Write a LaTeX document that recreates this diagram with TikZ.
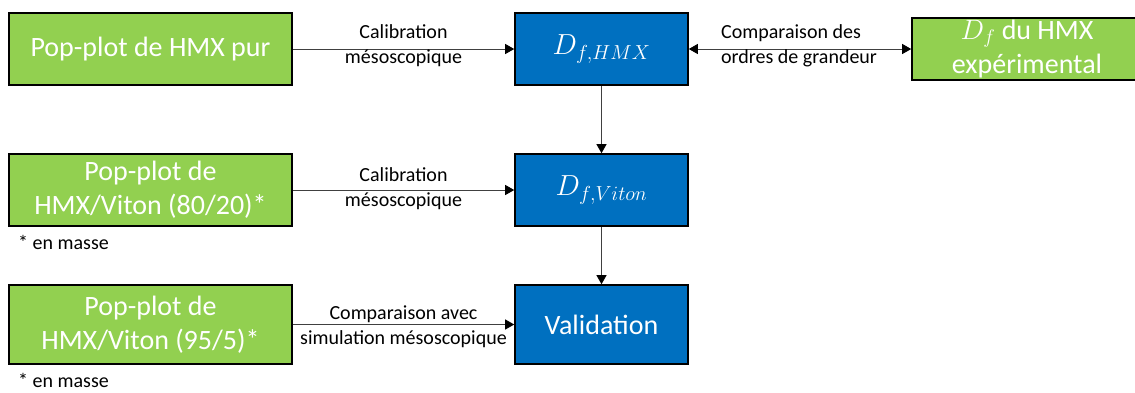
\documentclass[tikz,border=0pt]{standalone}
\usepackage{fix-cm}
\usepackage{fontspec}
\setmainfont{Carlito}
\usetikzlibrary{arrows.meta}
\definecolor{bgreen}{HTML}{92D050}
\definecolor{bblue}{HTML}{0070C0}
\definecolor{lgray}{HTML}{404040}
\begin{document}
\begin{tikzpicture}[x=1pt,y=-1pt,
  basebox/.style={draw=black, line width=1.6pt, text=white, align=center, inner sep=0pt,
    font=\fontsize{28}{34}\selectfont},
  gbox/.style={basebox, fill=bgreen},
  bbox/.style={basebox, fill=bblue},
  wide/.style={minimum width=283pt},
  narrow/.style={minimum width=173pt},
  mathlbl/.style={font=\fontsize{29}{34}\selectfont},
  conn/.style={draw=lgray, line width=0.9pt, -{Triangle[length=9pt,width=10pt,color=black]}},
  lbl/.style={font=\fontsize{20}{25}\selectfont, align=center, inner sep=0pt, text=black},
  note/.style={font=\fontsize{20}{24}\selectfont, anchor=west, inner sep=0pt}]
\useasboundingbox (0,0) rectangle (1135,392);
\clip (0,0) rectangle (1135,392);
% boxes
\node[gbox, wide, minimum height=72pt] (A) at (150.5,49) {Pop-plot de HMX pur};
\node[bbox, narrow, minimum height=72pt, mathlbl] (B) at (601.5,49) {$D_{f,HMX}$};
\node[gbox, minimum width=230pt, minimum height=62pt] (C) at (1027,49) {$D_f$ du HMX\\expérimental};
\node[gbox, wide, minimum height=72pt] (D) at (150.5,190) {Pop-plot de\\HMX/Viton (80/20)*};
\node[bbox, narrow, minimum height=72pt, mathlbl] (E) at (601.5,190) {$D_{f,Viton}$};
\node[gbox, wide, minimum height=79pt] (F) at (150.5,324.5) {Pop-plot de\\HMX/Viton (95/5)*};
\node[bbox, narrow, minimum height=79pt] (G) at (601.5,324.5) {Validation};
% notes
\node[note] (n1) at (18,242) {* en masse};
\node[note] (n2) at (18,380) {* en masse};
% connectors
\draw[conn] (A) -- node[lbl, yshift=3.5pt] {Calibration\\mésoscopique} (B);
\draw[conn] (D) -- node[lbl, yshift=1.5pt] {Calibration\\mésoscopique} (E);
\draw[conn] (F) -- node[lbl, yshift=-2pt] {Comparaison avec\\simulation mésoscopique} (G);
\draw[conn, {Triangle[length=9pt,width=10pt,color=black]}-{Triangle[length=9pt,width=10pt,color=black]}] (B) -- (C);
\node[lbl, align=left, anchor=west] (cmp) at (721,45.5) {Comparaison des\\ordres de grandeur};
\draw[conn] (B) -- (E);
\draw[conn] (E) -- (G);
\end{tikzpicture}
\end{document}
